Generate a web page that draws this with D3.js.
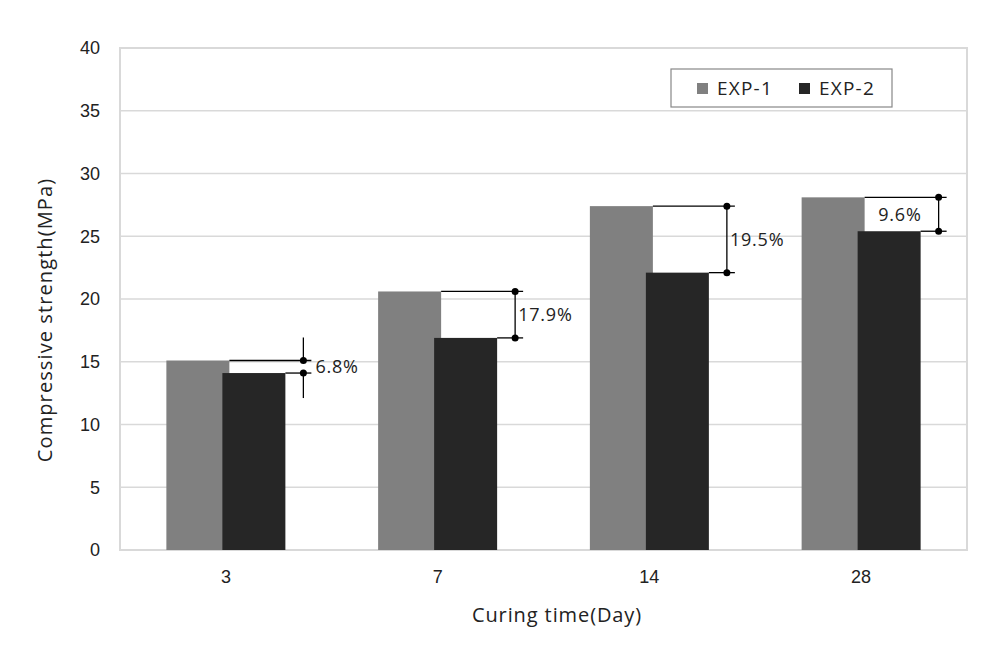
<!DOCTYPE html>
<meta charset="utf-8">
<style>
    body { margin: 0; background: #fff; }
    svg { font-family: "Open Sans", sans-serif; }
    .grid line { stroke: #d9d9d9; stroke-width: 1.5; }
    .tick text { fill: #222; font-size: 18px; }
</style>
<body>
<script src="https://cdn.jsdelivr.net/npm/d3@7"></script>
<script>
    // data
    const days = ["3", "7", "14", "28"];
    const exp1 = [15.1, 20.6, 27.4, 28.1];
    const exp2 = [14.1, 16.9, 22.1, 25.4];
    const diffLabels = ["6.8%", "17.9%", "19.5%", "9.6%"];
    const seriesNames = ["EXP-1", "EXP-2"];
    const seriesColors = ["#808080", "#262626"];
    const yTicks = [0, 5, 10, 15, 20, 25, 30, 35, 40];

    const width = 992, height = 660;
    const plot = {left: 120, right: 967, top: 48, bottom: 550};

    const svg = d3.select("body").append("svg")
        .attr("width", width)
        .attr("height", height);

    const x = d3.scaleBand().domain(days).range([plot.left, plot.right]);
    const y = d3.scaleLinear().domain([0, 40]).range([plot.bottom, plot.top]);

    const barW = 63, barStep = 56;   // series overlap a little, like excel
    const groupW = barStep + barW;
    const barX = (i, s) => x(days[i]) + x.bandwidth() / 2 - groupW / 2 + s * barStep;

    // gridlines
    svg.append("g").attr("class", "grid")
        .selectAll("line").data(yTicks).enter().append("line")
        .attr("x1", plot.left).attr("x2", plot.right)
        .attr("y1", d => y(d)).attr("y2", d => y(d));

    // plot border
    svg.append("rect")
        .attr("x", plot.left).attr("y", plot.top)
        .attr("width", plot.right - plot.left).attr("height", plot.bottom - plot.top)
        .attr("fill", "none").attr("stroke", "#d9d9d9").attr("stroke-width", 2);

    // y axis
    const yAxis = svg.append("g")
        .attr("transform", "translate(" + plot.left + ",0)")
        .call(d3.axisLeft(y).tickValues(yTicks).tickSize(0).tickPadding(20));
    yAxis.select(".domain").remove();

    // x axis
    const xAxis = svg.append("g")
        .attr("transform", "translate(0," + plot.bottom + ")")
        .call(d3.axisBottom(x).tickSize(0).tickPadding(20));
    xAxis.select(".domain").remove();

    // bars
    [exp1, exp2].forEach((vals, s) => {
        svg.append("g").selectAll("rect").data(vals).enter().append("rect")
            .attr("x", (d, i) => barX(i, s))
            .attr("y", d => y(d))
            .attr("width", barW)
            .attr("height", d => y(0) - y(d))
            .attr("fill", seriesColors[s]);
    });

    // difference annotations
    const ann = svg.append("g").attr("stroke", "#000").attr("stroke-width", 1.3);
    days.forEach((d, i) => {
        const e1 = barX(i, 0) + barW, e2 = barX(i, 1) + barW;
        const vx = e2 + 18;
        const y1 = y(exp1[i]), y2 = y(exp2[i]);
        ann.append("line").attr("x1", e1).attr("x2", vx + 8).attr("y1", y1).attr("y2", y1);
        ann.append("line").attr("x1", e2).attr("x2", vx + 8).attr("y1", y2).attr("y2", y2);
        if (y2 - y1 < 20) {
            // small gap: arrows outside
            ann.append("line").attr("x1", vx).attr("x2", vx).attr("y1", y1 - 23).attr("y2", y1);
            ann.append("line").attr("x1", vx).attr("x2", vx).attr("y1", y2).attr("y2", y2 + 25);
        } else {
            ann.append("line").attr("x1", vx).attr("x2", vx).attr("y1", y1).attr("y2", y2);
        }
        [y1, y2].forEach(yy => {
            ann.append("circle").attr("cx", vx).attr("cy", yy).attr("r", 3.5)
                .attr("fill", "#000").attr("stroke", "none");
        });
        const t = svg.append("text")
            .attr("y", (y1 + y2) / 2)
            .attr("dy", "0.35em")
            .attr("font-size", 18)
            .attr("letter-spacing", 0.8)
            .attr("fill", "#222")
            .text(diffLabels[i]);
        if (i === 3) {
            t.attr("x", vx - 17).attr("text-anchor", "end");
        } else {
            t.attr("x", vx + (i === 0 ? 12 : 3));
        }
    });

    // legend
    const lg = svg.append("g").attr("transform", "translate(671,69)");
    lg.append("rect").attr("width", 221).attr("height", 38)
        .attr("fill", "#fff").attr("stroke", "#888").attr("stroke-width", 1.2);
    seriesNames.forEach((n, s) => {
        const g = lg.append("g").attr("transform", "translate(" + (26 + s * 102) + ",0)");
        g.append("rect").attr("x", 0).attr("y", 14).attr("width", 11).attr("height", 11)
            .attr("fill", seriesColors[s]);
        g.append("text").attr("x", 20).attr("y", 19).attr("dy", "0.35em")
            .attr("font-size", 19).attr("letter-spacing", 1.2)
            .attr("fill", "#222").text(n);
    });

    // axis titles
    svg.append("text")
        .attr("x", 557)
        .attr("y", 622)
        .attr("text-anchor", "middle")
        .attr("font-size", 20)
        .attr("letter-spacing", 0.9)
        .attr("fill", "#222")
        .text("Curing time(Day)");

    svg.append("text")
        .attr("transform", "translate(52,320) rotate(-90)")
        .attr("text-anchor", "middle")
        .attr("font-size", 20)
        .attr("letter-spacing", 1.1)
        .attr("fill", "#222")
        .text("Compressive strength(MPa)");
</script>
</body>
</html>
